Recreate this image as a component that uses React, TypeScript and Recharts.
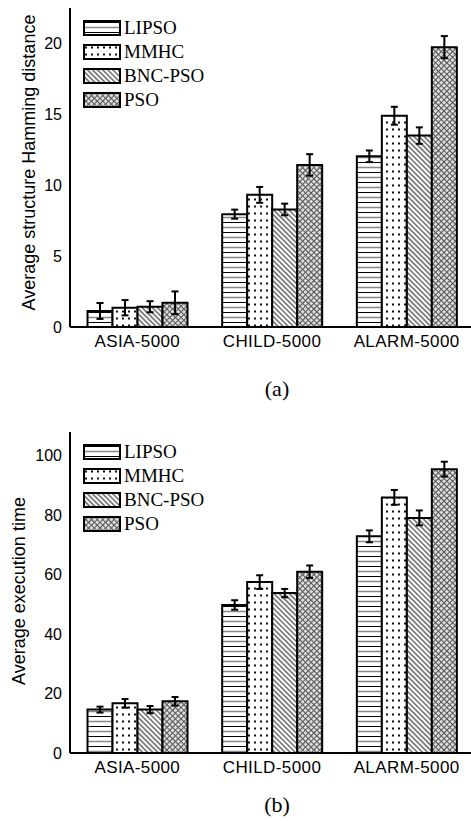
import { Bar, BarChart, ErrorBar, Legend, XAxis, YAxis } from 'recharts';

const CATEGORIES = ['ASIA-5000', 'CHILD-5000', 'ALARM-5000'];
const METHODS = ['LIPSO', 'MMHC', 'BNC-PSO', 'PSO'];

// (a) average structure Hamming distance, with error half-widths
const SHD_LIPSO = [1.13, 7.96, 12.04];
const SHD_MMHC = [1.36, 9.32, 14.9];
const SHD_BNC = [1.43, 8.29, 13.5];
const SHD_PSO = [1.71, 11.43, 19.74];
const SHD_LIPSO_ERR = [0.56, 0.32, 0.41];
const SHD_MMHC_ERR = [0.54, 0.56, 0.63];
const SHD_BNC_ERR = [0.39, 0.41, 0.58];
const SHD_PSO_ERR = [0.8, 0.76, 0.78];
const SHD_TICKS = [0, 5, 10, 15, 20];

// (b) average execution time
const TIME_LIPSO = [14.6, 49.8, 72.9];
const TIME_MMHC = [16.7, 57.5, 86.0];
const TIME_BNC = [14.6, 53.8, 79.1];
const TIME_PSO = [17.4, 61.0, 95.5];
const TIME_LIPSO_ERR = [1.0, 1.6, 2.0];
const TIME_MMHC_ERR = [1.45, 2.3, 2.5];
const TIME_BNC_ERR = [1.2, 1.4, 2.5];
const TIME_PSO_ERR = [1.45, 2.1, 2.5];
const TIME_TICKS = [0, 20, 40, 60, 80, 100];

const SANS = '"Liberation Sans", Arial, sans-serif';
const SERIF = '"Liberation Serif", "Times New Roman", serif';

const PATTERN_OF: Record<string, string> = {
  LIPSO: 'pat-lipso',
  MMHC: 'pat-mmhc',
  'BNC-PSO': 'pat-bnc',
  PSO: 'pat-pso',
};

function buildRows(vals: number[][], errs: number[][]) {
  return CATEGORIES.map((name, i) => {
    const row: Record<string, string | number> = { name };
    METHODS.forEach((m, k) => {
      row[m] = vals[k][i];
      row[m + '_err'] = errs[k][i];
    });
    return row;
  });
}

const shdRows = buildRows(
  [SHD_LIPSO, SHD_MMHC, SHD_BNC, SHD_PSO],
  [SHD_LIPSO_ERR, SHD_MMHC_ERR, SHD_BNC_ERR, SHD_PSO_ERR],
);
const timeRows = buildRows(
  [TIME_LIPSO, TIME_MMHC, TIME_BNC, TIME_PSO],
  [TIME_LIPSO_ERR, TIME_MMHC_ERR, TIME_BNC_ERR, TIME_PSO_ERR],
);

function Patterns() {
  return (
    <svg width={0} height={0} style={{ position: 'absolute' }}>
      <defs>
        <pattern id="pat-lipso" width={8} height={10} patternUnits="userSpaceOnUse">
          <rect width={8} height={10} fill="#fff" />
          <line x1={0} y1={2.5} x2={8} y2={2.5} stroke="#000" strokeWidth={1} />
          <line x1={0} y1={7.5} x2={8} y2={7.5} stroke="#888" strokeWidth={1.5} />
        </pattern>
        <pattern id="pat-mmhc" width={6} height={7} patternUnits="userSpaceOnUse">
          <rect width={6} height={7} fill="#fff" />
          <rect x={2} y={2.5} width={2} height={2} fill="#111" />
        </pattern>
        <pattern id="pat-bnc" width={3.6} height={3.6} patternUnits="userSpaceOnUse" patternTransform="rotate(-45)">
          <rect width={3.6} height={3.6} fill="#fff" />
          <line x1={1.8} y1={0} x2={1.8} y2={3.6} stroke="#000" strokeWidth={0.9} />
        </pattern>
        <pattern id="pat-pso" width={4} height={4} patternUnits="userSpaceOnUse" patternTransform="rotate(45)">
          <rect width={4} height={4} fill="#dcdcdc" />
          <line x1={0.5} y1={0} x2={0.5} y2={4} stroke="#555" strokeWidth={1} />
          <line x1={0} y1={0.5} x2={4} y2={0.5} stroke="#555" strokeWidth={1} />
        </pattern>
      </defs>
    </svg>
  );
}

function LegendBox(props: any) {
  const items: any[] = [...(props.payload || [])].sort(
    (a, b) => METHODS.indexOf(a.value) - METHODS.indexOf(b.value),
  );
  return (
    <div>
      {items.map((it) => (
        <div key={it.value} style={{ display: 'flex', alignItems: 'center', height: 24 }}>
          <svg width={38} height={16}>
            <rect x={1} y={1} width={36} height={14} fill={`url(#${PATTERN_OF[it.value]})`} stroke="#000" strokeWidth={2} />
          </svg>
          <span style={{ fontFamily: SERIF, fontSize: 19, marginLeft: 3, color: '#000', lineHeight: '24px' }}>
            {it.value}
          </span>
        </div>
      ))}
    </div>
  );
}

function Panel({
  rows,
  max,
  ticks,
  yLabel,
  labelX,
  labelDy,
  top,
  height,
  caption,
  captionTop,
}: {
  rows: Record<string, string | number>[];
  max: number;
  ticks: number[];
  yLabel: string;
  labelX: number;
  labelDy: number;
  top: number;
  height: number;
  caption: string;
  captionTop: number;
}) {
  const renderYLabel = (p: any) => {
    const vb = p.viewBox || { x: 0, y: 8, width: 70, height: height - 38 };
    const cx = vb.x + labelX;
    const cy = vb.y + vb.height / 2 + labelDy;
    return (
      <text
        transform={`translate(${cx}, ${cy}) rotate(-90)`}
        textAnchor="middle"
        dominantBaseline="central"
        fontFamily={SANS}
        fontSize={18}
        fill="#000"
      >
        {yLabel}
      </text>
    );
  };

  return (
    <>
      <div style={{ position: 'absolute', left: 0, top }}>
        <BarChart
          width={490}
          height={height}
          data={rows}
          margin={{ top: 8, right: 16, bottom: 0, left: 0 }}
          barCategoryGap="13%"
          barGap={0}
        >
          <XAxis
            dataKey="name"
            interval={0}
            height={30}
            axisLine={{ stroke: '#000', strokeWidth: 2 }}
            tickLine={false}
            tick={{ fill: '#000', fontSize: 17, fontFamily: SANS, letterSpacing: 0.4 }}
          />
          <XAxis
            xAxisId="top"
            orientation="top"
            dataKey="name"
            height={0}
            tick={false}
            tickLine={false}
            axisLine={{ stroke: '#000', strokeWidth: 2 }}
          />
          <YAxis
            width={70}
            domain={[0, max]}
            ticks={ticks}
            interval={0}
            axisLine={{ stroke: '#000', strokeWidth: 2 }}
            tickLine={false}
            tick={{ fill: '#000', fontSize: 16, fontFamily: SANS }}
            label={renderYLabel}
          />
          <Legend
            layout="vertical"
            align="center"
            verticalAlign="middle"
            wrapperStyle={{ left: 83, top: 16, width: 'auto', height: 'auto' }}
            content={LegendBox}
          />
          {METHODS.map((m) => (
            <Bar
              key={m}
              dataKey={m}
              name={m}
              fill={`url(#${PATTERN_OF[m]})`}
              stroke="#000"
              strokeWidth={2}
              isAnimationActive={false}
            >
              <ErrorBar dataKey={m + '_err'} width={3.5} stroke="#000" strokeWidth={2} />
            </Bar>
          ))}
        </BarChart>
      </div>
      <div
        style={{
          position: 'absolute',
          left: 277,
          top: captionTop,
          transform: 'translateX(-50%)',
          fontFamily: SERIF,
          fontSize: 22,
          lineHeight: '24px',
          color: '#000',
        }}
      >
        {caption}
      </div>
    </>
  );
}

export default function App() {
  return (
    <div
      style={{
        position: 'absolute',
        left: 0,
        top: 0,
        width: 471,
        height: 821,
        overflow: 'hidden',
        background: '#fff',
      }}
    >
      <Patterns />
      <Panel
        rows={shdRows}
        max={22.5}
        ticks={SHD_TICKS}
        yLabel="Average structure Hamming distance"
        labelX={28.5}
        labelDy={-5}
        top={0}
        height={357}
        caption="(a)"
        captionTop={377}
      />
      <Panel
        rows={timeRows}
        max={108}
        ticks={TIME_TICKS}
        yLabel="Average execution time"
        labelX={19}
        labelDy={-1.5}
        top={424}
        height={359}
        caption="(b)"
        captionTop={793}
      />
    </div>
  );
}
